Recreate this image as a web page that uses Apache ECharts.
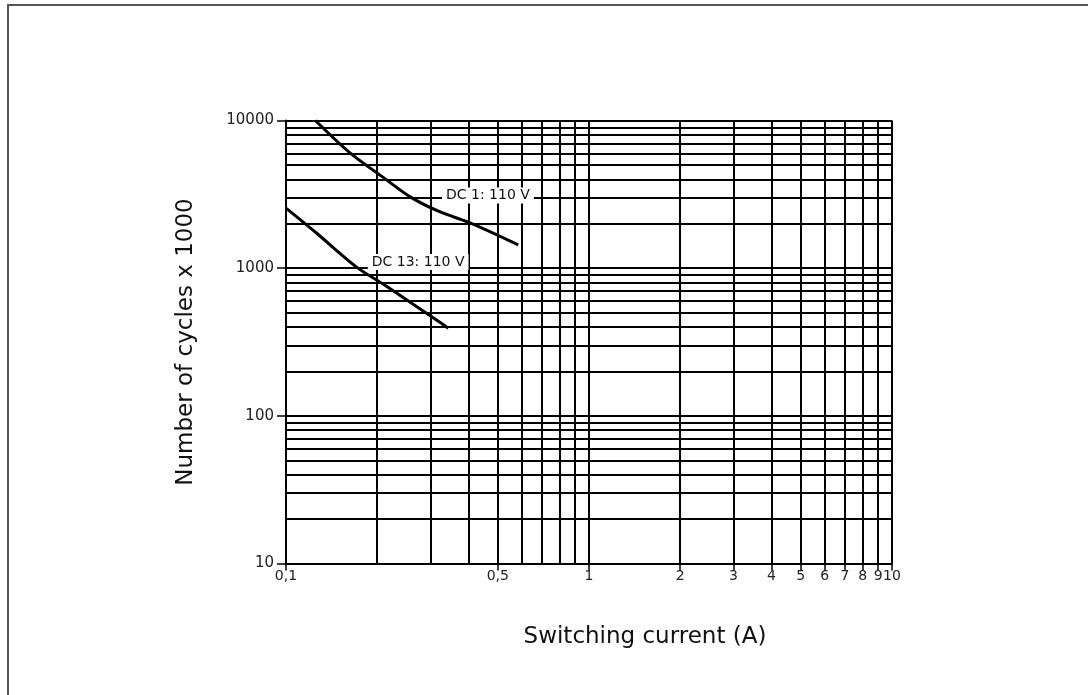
<!DOCTYPE html>
<html>
<head>
<meta charset="utf-8">
<script src="https://cdn.jsdelivr.net/npm/echarts@6/dist/echarts.min.js"></script>
<style>html,body{margin:0;padding:0;background:#fff;}#c{width:1088px;height:695px;}</style>
</head>
<body>
<div id="c"></div>
<script>
// ---- data ----
const xGridValues = [0.1,0.2,0.3,0.4,0.5,0.6,0.7,0.8,0.9,1,2,3,4,5,6,7,8,9,10];
const yGridValues = [10,20,30,40,50,60,70,80,90,100,200,300,400,500,600,700,800,900,1000,2000,3000,4000,5000,6000,7000,8000,9000,10000];
const xTickLabels = [0.1,0.5,1,2,3,4,5,6,7,8,9,10];
const yTickLabels = [10,100,1000,10000];
const dc1X = [0.125, 0.163, 0.211, 0.257, 0.32, 0.414, 0.584];
const dc1Y = [10000, 6010, 4070, 3040, 2420, 1990, 1440];
const dc13X = [0.1, 0.126, 0.171, 0.211, 0.32, 0.343];
const dc13Y = [2550, 1730, 1016, 771, 433, 392];
const curveNames = ['DC 1: 110 V', 'DC 13: 110 V'];
const labelAnchors = [[0.464, 3110], [0.273, 1100]];

const font = 'DejaVu Sans, Liberation Sans, sans-serif';
const chart = echarts.init(document.getElementById('c'), null, {renderer:'canvas'});
const gridMarks = xGridValues.map(v => ({xAxis: v})).concat(yGridValues.map(v => ({yAxis: v})));
const zip = (a,b) => a.map((v,i)=>[v,b[i]]);

chart.setOption({
  animation: false,
  backgroundColor: '#fff',
  graphic: [{type:'rect', shape:{x:8,y:5,width:1300,height:900}, style:{fill:'none', stroke:'#555', lineWidth:2}, z:-1}],
  grid: {left: 286, right: 196, top: 120.5, bottom: 131.5},
  xAxis: {
    type: 'log', logBase: 10, min: 0.1, max: 10,
    name: 'Switching current (A)', nameLocation: 'middle', nameGap: 62,
    nameTextStyle: {fontFamily: font, fontSize: 23, color: '#111', padding: [0, 0, 0, 112]},
    axisLine: {show: true, lineStyle: {color:'#000', width: 2}},
    axisTick: {show: true, customValues: xTickLabels, length: 7, lineStyle: {color:'#000', width: 1.5}},
    axisLabel: {customValues: xTickLabels, fontFamily: font, fontSize: 14, color: '#222', margin: 6,
      hideOverlap: false, showMaxLabel: true, showMinLabel: true,
      formatter: v => String(v).replace('.', ',')},
    splitLine: {show: false}
  },
  yAxis: {
    type: 'log', logBase: 10, min: 10, max: 10000,
    name: 'Number of cycles x 1000', nameLocation: 'middle', nameGap: 88,
    nameTextStyle: {fontFamily: font, fontSize: 23, color: '#111'},
    axisLine: {show: true, lineStyle: {color:'#000', width: 2}},
    axisTick: {show: true, customValues: yTickLabels, length: 9, lineStyle: {color:'#000', width: 1.5}},
    axisLabel: {customValues: yTickLabels, fontFamily: font, fontSize: 15, color: '#222', margin: 12,
      formatter: v => String(Math.round(v))},
    splitLine: {show: false}
  },
  series: [
    {
      type: 'line', name: 'grid', data: [], silent: true, z: 1,
      markLine: {silent: true, symbol: ['none','none'], animation: false, z: 1,
        lineStyle: {color:'#000', width: 2, type: 'solid'}, label: {show: false},
        emphasis: {disabled: true}, data: gridMarks}
    },
    {
      type: 'line', name: curveNames[0], data: zip(dc1X, dc1Y), smooth: 0.3, showSymbol: false,
      lineStyle: {color:'#000', width: 3}, z: 5
    },
    {
      type: 'line', name: curveNames[1], data: zip(dc13X, dc13Y), smooth: 0.3, showSymbol: false,
      lineStyle: {color:'#000', width: 3}, z: 5
    },
    {
      type: 'scatter', symbolSize: 1, z: 20, silent: true,
      itemStyle: {opacity: 1, color: '#fff'},
      data: labelAnchors.map((p,i)=>({value: p, label: {show: true, formatter: curveNames[i]}})),
      label: {show: true, position: 'inside', fontFamily: font, fontSize: 14, color: '#111',
        backgroundColor: '#fff', padding: [1, 4]}
    }
  ]
});
</script>
</body>
</html>
